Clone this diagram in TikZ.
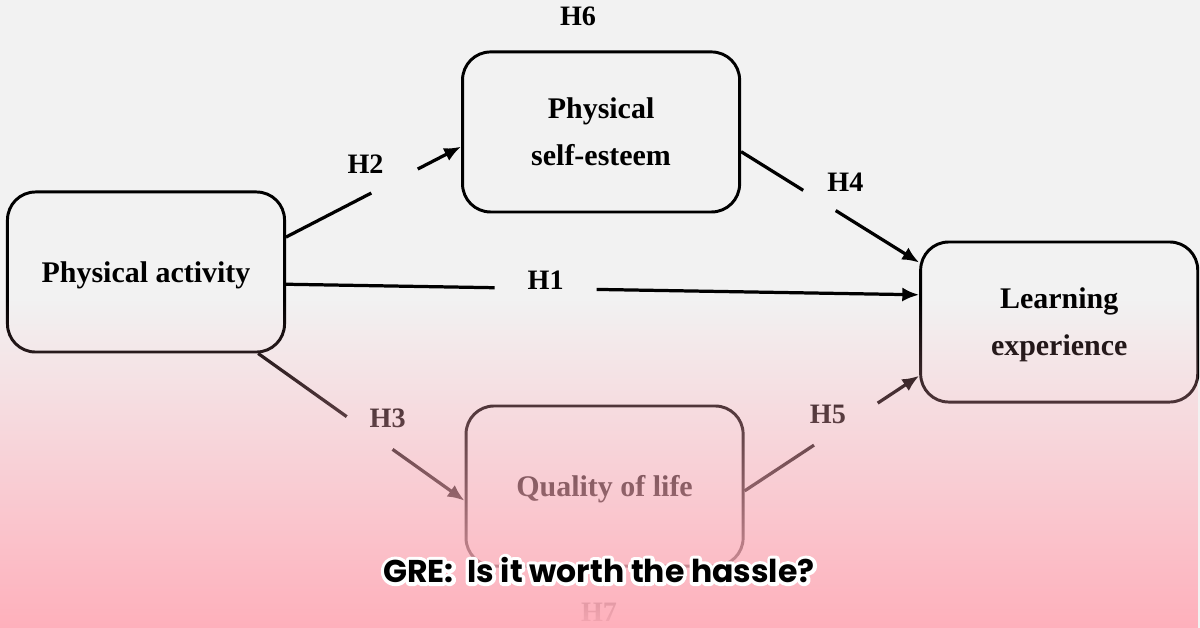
\documentclass[tikz,border=0pt]{standalone}
\usepackage{fontspec}
\setmainfont{Liberation Serif}
\newfontfamily\capfont{Poppins}
\usepackage{tikz}
\usetikzlibrary{arrows.meta,positioning,fadings}

\definecolor{bggray}{HTML}{F2F2F2}
\definecolor{pinkbg}{HTML}{FFAEBA}
\tikzfading[name=pinkfade, top color=transparent!100, bottom color=transparent!3]
\newcommand{\outlinetext}[1]{\special{pdf:literal direct 1 Tr 5 w 1 1 1 RG 1 j}#1\special{pdf:literal direct 0 Tr}}

\begin{document}
\begin{tikzpicture}[
    x=0.025cm, y=-0.025cm,
    every node/.style={font=\bfseries\fontsize{21.3}{33.4}\selectfont},
    box/.style={rectangle, draw, line width=2.1pt, rounded corners=0.7cm, minimum width=6.925cm, minimum height=4cm, align=center, text depth=0pt},
    arr/.style={-{Latex[length=12pt, width=10pt]}, line width=2.3pt},
    gap/.style={fill=bggray, inner sep=0pt, minimum height=14pt, sloped},
    hyp/.style={font=\bfseries\fontsize{20}{22}\selectfont},
    capt/.style={font=\capfont\bfseries\fontsize{22.4}{24}\selectfont},
]
    \fill[bggray] (0,0) rectangle (1200,628);
    \useasboundingbox (0,0) rectangle (1200,628);

    \node[box] (pa) at (146,272) {Physical activity};
    \node[box, right=4.375cm of pa, yshift=3.5cm] (pse) {Physical\\self-esteem};
    \node[box, right=15.825cm of pa, yshift=-1.25cm] (le) {Learning\\experience};
    \node[box, below=4.775cm of pse, xshift=0.0875cm] (qol) {Quality of life};

    \node[hyp] (h6) at (578,16) {H6};
    \node[hyp] (h7) at (599,612) {H7};

    \draw[arr] (pa.14) -- node[gap, pos=0.62, minimum width=1.3cm] {}
        node[hyp, pos=0.62, xshift=-0.725cm, yshift=0.425cm] (h2) {H2} (pse.186);
    \draw[arr] (pse.-8) -- node[gap, pos=0.44, minimum width=0.95cm] {}
        node[hyp, pos=0.44, xshift=0.65cm, yshift=0.45cm] (h4) {H4} (le.157);
    \draw[arr] (pa.-5) -- node[gap, pos=0.41, minimum width=2.55cm] {}
        node[hyp, pos=0.41, yshift=0.2cm] (h1) {H1} (le.169);
    \draw[arr] (pa.-36) -- node[gap, pos=0.54, minimum width=1.4cm] {}
        node[hyp, pos=0.54, xshift=0.45cm, yshift=0.375cm] (h3) {H3} (qol.186);
    \draw[arr] (qol.-2) -- node[gap, pos=0.58, minimum width=1.9cm] {}
        node[hyp, pos=0.58, xshift=-0.45cm, yshift=0.25cm] (h5) {H5} (le.201);

    \fill[pinkbg, path fading=pinkfade] (0,300) rectangle (1200,628);

    \node[capt] (capw) at (599,570) {\outlinetext{GRE:\space\space Is it worth the hassle?}};
    \node[capt] (cap) at (599,570) {GRE:\space\space Is it worth the hassle?};
\end{tikzpicture}
\end{document}
